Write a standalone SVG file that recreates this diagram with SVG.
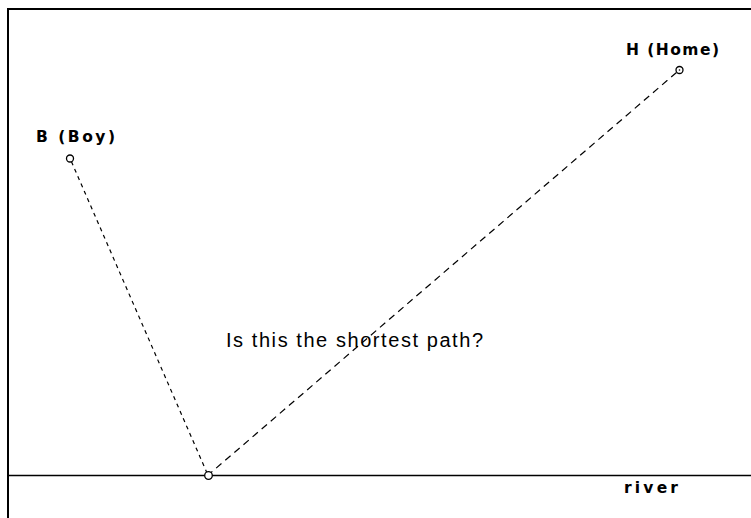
<svg xmlns="http://www.w3.org/2000/svg" width="751" height="518" viewBox="0 0 751 518">
<style>
.lbl{font-family:"DejaVu Sans","Liberation Sans",sans-serif;font-weight:bold;font-size:15.5px;fill:#000}
.q{font-family:"Liberation Sans","DejaVu Sans",sans-serif;font-size:20px;fill:#000}
.pt{fill:#fff;stroke:#000;stroke-width:1.3}
.path{stroke:#000;stroke-width:1.2;fill:none}
</style>
<rect width="751" height="518" fill="#fff"/>
<g id="frame">
<path d="M8 518 V9 H751" fill="none" stroke="#000" stroke-width="2"/>
</g>
<g id="river">
<line x1="8" y1="475.5" x2="751" y2="475.5" stroke="#000" stroke-width="1.4"/>
<text class="lbl" x="624" y="493" textLength="54" lengthAdjust="spacing">river</text>
</g>
<g id="connectors">
<line class="path" x1="71.4" y1="161.6" x2="206.6" y2="472" stroke-dasharray="4,4"/>
<line class="path" x1="676.5" y1="72.5" x2="210.5" y2="473" stroke-dasharray="7,5"/>
</g>
<g id="boy">
<circle class="pt" cx="70" cy="158.5" r="3.5"/>
<text class="lbl" x="36" y="142" textLength="79" lengthAdjust="spacing">B (Boy)</text>
</g>
<g id="home">
<circle class="pt" cx="679.5" cy="70" r="3.5"/>
<circle cx="679.5" cy="70" r="0.8" fill="#000"/>
<text class="lbl" x="626" y="55" textLength="93" lengthAdjust="spacing">H (Home)</text>
</g>
<g id="crossing">
<circle class="pt" cx="208.5" cy="475.5" r="3.8"/>
</g>
<g id="question">
<text class="q" x="226" y="347" textLength="257" lengthAdjust="spacing">Is this the shortest path?</text>
</g>
</svg>
